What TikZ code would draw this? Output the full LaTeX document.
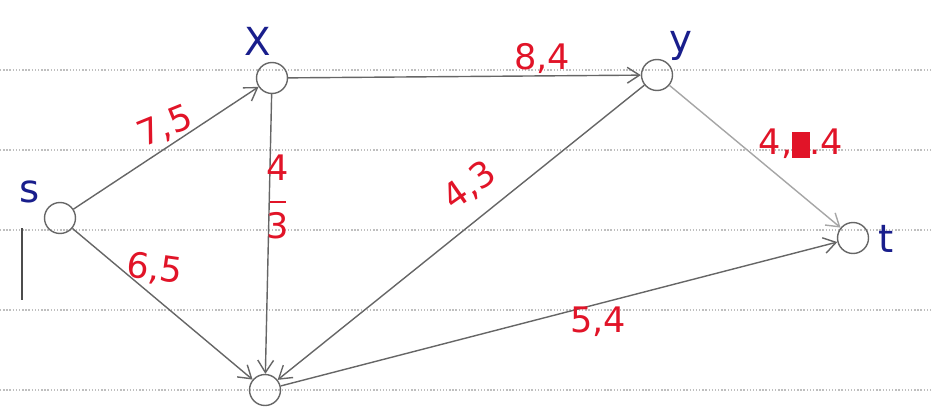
\documentclass[tikz,border=0pt]{standalone}
\usepackage{fontspec}
\setmainfont{DejaVu Sans}
\usetikzlibrary{arrows.meta,positioning}

\definecolor{penred}{RGB}{225,20,40}
\definecolor{penblue}{RGB}{25,30,140}

\begin{document}
\begin{tikzpicture}[
        vertex/.style={circle, draw=black!60, thick, minimum size=0.62cm, inner sep=0pt},
        vname/.style={text=penblue, font=\fontsize{22}{24}\selectfont},
        flowlbl/.style={text=penred, font=\fontsize{20}{22}\selectfont, inner sep=1pt},
        edge/.style={->, draw=black!60, thick, >={Straight Barb[length=7pt,width=9pt]}},
        ruled/.style={black!25, densely dotted, thick}
        ]
        \useasboundingbox (0,0) rectangle (18.66,8.22);

        % notebook lines
        \foreach \yy in {0.42,2.02,3.62,5.22,6.82}
            \draw[ruled] (0,\yy) -- (18.66,\yy);
        \draw[black!70, thick] (0.44,3.66) -- (0.44,2.22);

        % vertices
        \node[vertex] (s) at (1.2,3.86) {};
        \node[vertex] (x) at (5.44,6.66) {};
        \node[vertex] (y) at (13.14,6.72) {};
        \node[vertex] (t) at (17.06,3.46) {};
        \node[vertex] (b) at (5.3,0.42) {};

        % vertex names
        \node[vname] (sname) at (0.6,4.38) {s};
        \node[vname] (xname) at (5.16,7.4) {X};
        \node[vname] (yname) at (13.62,7.3) {y};
        \node[vname] (tname) at (17.72,3.44) {t};

        % edges with capacity,flow
        \draw[edge] (s) -- (x);
        \node[flowlbl, rotate=22] (sx) at (3.3,5.68) {7,5};
        \draw[edge] (s) -- (b);
        \node[flowlbl, rotate=-8] (sb) at (3.1,2.84) {6,5};
        \draw[edge] (x) -- node[flowlbl, above, pos=0.72] (xy) {8,4} (y);
        \draw[edge] (x) -- (b);
        \node[flowlbl, align=center] (xb) at (5.56,4.28) {4\\[-9pt]\rule{9pt}{1.2pt}\\[-2pt]3};
        \draw[edge] (y) -- (b);
        \node[flowlbl, rotate=35] (yb) at (9.4,4.5) {4,3};
        \draw[edge, draw=black!35] (y) -- (t);
        \node[flowlbl] (yt) at (16.02,5.34) {4,\rule[-2pt]{10pt}{15pt}.4};
        \draw[edge] (b) -- node[flowlbl, below, pos=0.57] (bt) {5,4} (t);

    \end{tikzpicture}
\end{document}
